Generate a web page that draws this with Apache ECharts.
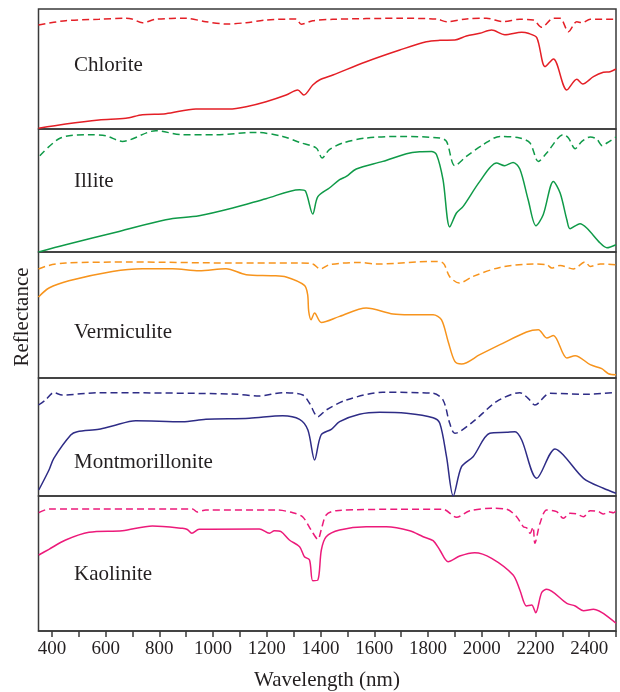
<!DOCTYPE html>
<html>
<head>
    <meta charset="utf-8">
    <title>Reflectance spectra</title>
    <script src="https://cdn.jsdelivr.net/npm/echarts@6.0.0/dist/echarts.min.js"></script>
    <style>
        html, body { margin: 0; padding: 0; background: #fff; }
        #container { width: 620px; height: 692px; }
    </style>
</head>
<body>
<div id="container"></div>
<script type="text/javascript">
    // x axis ticks / labels (nm)
    var tickValues = [400, 500, 600, 700, 800, 900, 1000, 1100, 1200, 1300, 1400, 1500, 1600, 1700, 1800, 1900, 2000, 2100, 2200, 2300, 2400, 2500];
    var tickLabels = [400, 600, 800, 1000, 1200, 1400, 1600, 1800, 2000, 2200, 2400];
    var minerals = ['Chlorite', 'Illite', 'Vermiculite', 'Montmorillonite', 'Kaolinite'];

    // [wavelength nm, relative reflectance] - solid = spectrum, dashed = continuum removed
    var chloriteSolid = [[350,0.7],[451,5],[575,9],[675,10.7],[737,14.3],[824,15.3],[936,20],[1060,20],[1123,22.3],[1197,27.3],[1272,34],[1315,39],[1338,34],[1371,44],[1396,49],[1446,54],[1570,67.3],[1695,79],[1794,87.3],[1844,88.7],[1900,89],[1943,93],[1993,95.7],[2037,99],[2086,94.3],[2149,96.7],[2173,95.7],[2205,91.3],[2236,62.3],[2267,70],[2317,39],[2354,49.7],[2376,45],[2416,52.3],[2453,56.7],[2478,57.3],[2500,60]];
    var chloriteDashed = [[350,104],[451,108.3],[575,109.7],[675,110.7],[698,110],[737,106.3],[787,109.7],[899,110.7],[973,107.3],[1048,105],[1123,106.3],[1197,109],[1309,110],[1328,104.7],[1371,108.3],[1446,109.7],[1695,110.7],[1832,110],[1869,107.3],[1943,110],[2018,110.7],[2080,107.3],[2142,109.7],[2192,109],[2223,101.7],[2267,110.7],[2292,110.7],[2323,97.3],[2354,107.3],[2373,106.3],[2404,109.7],[2500,109.7]];

    var illiteSolid = [[350,0],[451,7.3],[650,20.6],[824,32.3],[948,36.3],[1073,44],[1197,53.3],[1322,62.3],[1344,60.8],[1371,38],[1390,55.3],[1433,64],[1471,72.3],[1496,75.6],[1533,83],[1632,90.6],[1720,98.3],[1769,100.3],[1813,100.6],[1832,97.3],[1856,72.3],[1881,25],[1906,39],[1931,45.6],[1993,70.6],[2055,89],[2086,86.3],[2117,89.6],[2142,83],[2173,52.3],[2202,26.3],[2229,37.3],[2267,70.6],[2292,59],[2317,32.3],[2329,23.3],[2366,28.3],[2391,24],[2441,9],[2466,4.3],[2500,7.3]];
    var illiteDashed = [[355,96.3],[432,114],[538,117.3],[600,116.3],[662,110.6],[787,121.3],[886,117.3],[1011,117.3],[1160,119.6],[1259,115.6],[1322,109.6],[1384,104],[1406,94],[1433,102.3],[1483,109],[1570,114],[1695,115.6],[1844,114],[1869,110.6],[1900,86.3],[1943,95.6],[2005,107.3],[2068,115.6],[2142,114],[2180,109],[2211,90.6],[2242,99],[2304,117.3],[2323,114],[2348,103.3],[2373,110.6],[2404,115],[2428,113],[2449,106.3],[2466,109],[2500,115]];

    var vermiculiteSolid = [[350,81],[389,90],[463,97.3],[625,106.6],[737,109.3],[849,109.3],[948,107.3],[1048,109.3],[1123,103.3],[1222,102.3],[1272,101],[1340,92.6],[1352,83.3],[1356,66.6],[1365,58.3],[1378,65],[1403,55.6],[1471,61.6],[1570,70],[1670,64],[1732,63.3],[1819,63.3],[1850,58.3],[1875,36.6],[1900,16.6],[1925,14],[1993,23.3],[2068,33.3],[2167,46],[2211,48.3],[2242,40],[2267,42.6],[2317,20],[2348,22.3],[2404,13.3],[2447,9.3],[2472,4.3],[2500,3.3]];
    var vermiculiteDashed = [[350,109],[389,112.6],[451,115],[700,116],[1073,115],[1322,115],[1371,114],[1399,109],[1433,113.3],[1545,115.6],[1608,114],[1819,116.6],[1856,115],[1881,101.3],[1916,95],[1968,101.6],[2068,110.6],[2192,114],[2242,113.3],[2261,110],[2292,112.6],[2341,109],[2385,116],[2404,111.6],[2441,114],[2500,113.3]];

    var montmorilloniteSolid = [[351,6],[389,26],[407,37.7],[470,61],[494,64.3],[575,66.7],[625,70],[712,75.3],[886,74.3],[973,76.7],[1135,77.7],[1259,80.3],[1322,76.7],[1353,66],[1378,36],[1402,61],[1440,66.7],[1471,74.3],[1545,81.7],[1620,83.7],[1720,82.7],[1819,78.3],[1844,72.7],[1869,39.3],[1894,0],[1925,29.3],[1968,39.3],[2030,62.7],[2093,63.7],[2124,64.3],[2149,56],[2205,17.7],[2273,47],[2304,41],[2379,17.7],[2453,7.7],[2500,2.7]];
    var montmorilloniteDashed = [[350,91],[376,96],[407,103.3],[438,101],[575,103.3],[1073,102],[1172,100],[1259,103.3],[1334,101],[1359,92.7],[1390,79.3],[1421,86],[1496,96],[1632,103.7],[1819,102.7],[1856,96],[1881,72.7],[1900,62.7],[1968,74.3],[2055,94.3],[2142,103.3],[2173,97.7],[2198,91],[2254,102.7],[2391,101.7],[2500,103.7]];

    var kaoliniteSolid = [[351,76],[389,81.7],[451,91],[538,98.7],[662,100.3],[774,105],[886,102.7],[904,101.5],[921,97.7],[948,101.7],[1172,102],[1210,97.7],[1228,100.3],[1253,99.3],[1284,91],[1322,84.3],[1340,74.3],[1359,71],[1371,50.3],[1390,51],[1403,81],[1421,94.3],[1471,101],[1570,104.3],[1645,104.3],[1732,100.3],[1782,94.3],[1819,90.3],[1844,81],[1875,69.3],[1918,75],[1974,78.3],[2037,72.7],[2117,56],[2142,41],[2167,25],[2186,26],[2201,18.3],[2223,38.3],[2242,41.7],[2317,27.7],[2348,25],[2379,20.3],[2416,21.7],[2500,7.7]];
    var kaoliniteDashed = [[351,118.3],[389,122],[575,122],[923,122],[941,119],[973,121],[1235,121],[1297,118.3],[1334,114],[1365,101],[1390,91.7],[1403,101.7],[1421,116],[1458,120.3],[1695,121.7],[1856,121.7],[1906,113.7],[1956,120.3],[2043,122.7],[2093,121.7],[2130,114.3],[2155,104.3],[2168,103],[2180,97.7],[2191,104],[2198,87.7],[2217,107.7],[2242,121],[2279,119.3],[2304,112.7],[2329,117.7],[2354,117],[2379,114.3],[2404,120.3],[2435,119.3],[2453,117],[2472,119.3],[2491,118.3],[2500,120.3]];

    var solids = [chloriteSolid, illiteSolid, vermiculiteSolid, montmorilloniteSolid, kaoliniteSolid];
    var dashes = [chloriteDashed, illiteDashed, vermiculiteDashed, montmorilloniteDashed, kaoliniteDashed];

    // layout / styling
    var colors = ['#e41f26', '#0f9a48', '#f7941d', '#2e2c86', '#ec1a7a'];
    var panelTop = [9, 129, 252, 378, 496];
    var panelHeight = [120, 123, 126, 118, 135];
    var labelY = [65, 181, 332, 462, 574];
    var serif = '"Liberation Serif", "DejaVu Serif", serif';
    var textColor = '#231f20';

    var dom = document.getElementById('container');
    var myChart = echarts.init(dom);

    var grids = [], xAxes = [], yAxes = [], series = [], graphics = [];
    for (var i = 0; i < 5; i++) {
        grids.push({
            left: 38.5, right: 4, top: panelTop[i], height: panelHeight[i],
            show: true, borderColor: '#3a3a3a', borderWidth: 1.5
        });
        var last = (i === 4);
        xAxes.push({
            gridIndex: i, type: 'value', min: 350, max: 2500,
            show: last,
            axisLine: { show: true, lineStyle: { color: '#3a3a3a', width: 1.5 } },
            axisTick: { show: last, inside: false, length: 6, customValues: tickValues,
                        lineStyle: { color: '#3a3a3a', width: 1.5 } },
            axisLabel: { show: last, customValues: tickLabels, margin: 9,
                         formatter: function (v) { return String(v); },
                         fontFamily: serif, fontSize: 19, color: textColor },
            splitLine: { show: false }
        });
        yAxes.push({ gridIndex: i, type: 'value', min: 0, max: panelHeight[i], show: false });
        series.push({
            type: 'line', xAxisIndex: i, yAxisIndex: i, data: solids[i],
            showSymbol: false, smooth: 0.3, silent: true,
            lineStyle: { color: colors[i], width: 1.5 }
        });
        series.push({
            type: 'line', xAxisIndex: i, yAxisIndex: i, data: dashes[i],
            showSymbol: false, smooth: 0.3, silent: true,
            lineStyle: { color: colors[i], width: 1.5, type: [7, 4] }
        });
        graphics.push({
            type: 'text', x: 74, y: labelY[i],
            style: { text: minerals[i], fontFamily: serif, fontSize: 21, fill: textColor, verticalAlign: 'middle' }
        });
    }
    graphics.push({
        type: 'text', x: 22, y: 317, rotation: Math.PI / 2,
        style: { text: 'Reflectance', fontFamily: serif, fontSize: 21, fill: textColor, align: 'center', verticalAlign: 'middle' }
    });
    graphics.push({
        type: 'text', x: 327, y: 680,
        style: { text: 'Wavelength (nm)', fontFamily: serif, fontSize: 21, fill: textColor, align: 'center', verticalAlign: 'middle' }
    });

    var option = {
        animation: false,
        grid: grids,
        xAxis: xAxes,
        yAxis: yAxes,
        series: series,
        graphic: graphics
    };
    myChart.setOption(option);
</script>
</body>
</html>
